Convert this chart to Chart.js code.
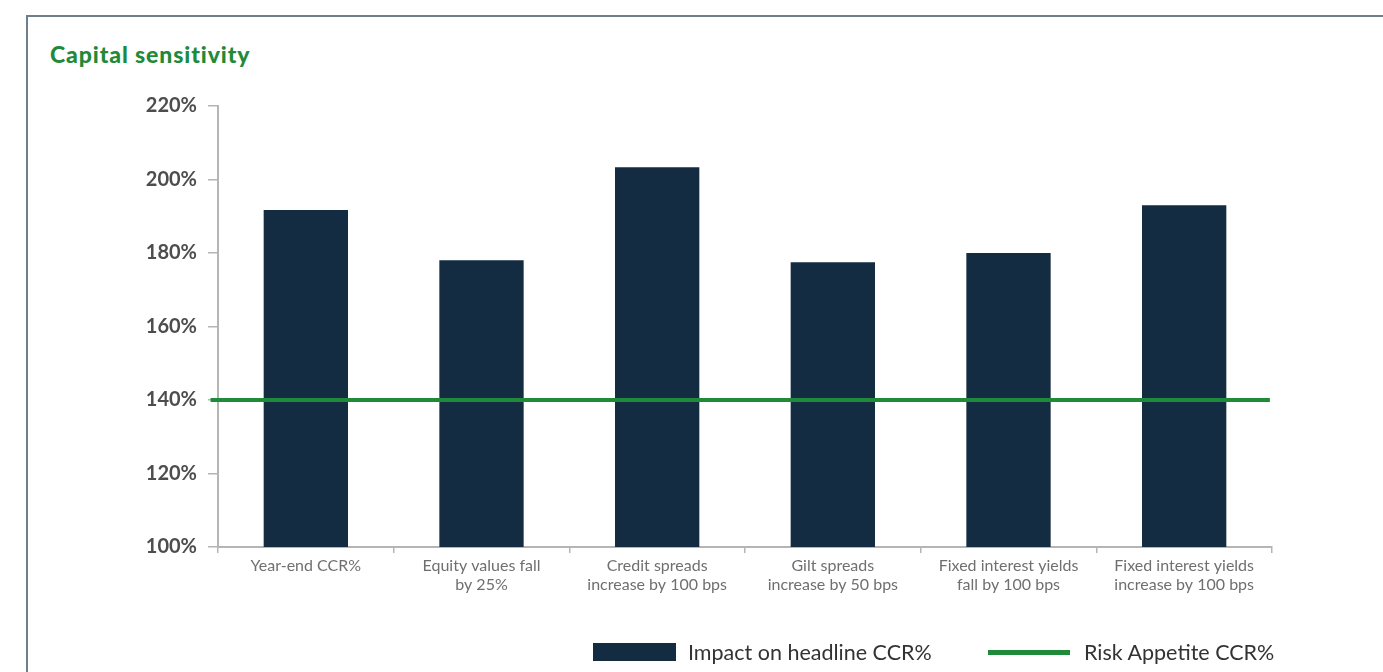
<!DOCTYPE html>
<html>
<head>
<meta charset="utf-8">
<script src="https://cdn.jsdelivr.net/npm/chart.js@4"></script>
<style>
  html, body { margin: 0; padding: 0; background: #fff; }
  body { width: 1383px; height: 672px; position: relative; overflow: hidden; font-family: Lato, "Open Sans", sans-serif; }
  #frame { position: absolute; left: 26px; top: 15px; width: 1400px; height: 700px; border-left: 2px solid #6e7e8a; border-top: 2px solid #6e7e8a; }
  #title { position: absolute; left: 50px; top: 40px; font-size: 23px; font-weight: 900; color: #1e8a3a; letter-spacing: 0.9px; }
  #wrap { position: absolute; left: 0; top: 0; width: 1383px; height: 672px; }
  .legend { position: absolute; top: 639px; font-size: 21.5px; color: #333; display: flex; align-items: center; }
  .sw { display: inline-block; margin-right: 12px; }
</style>
</head>
<body>
<div id="frame"></div>
<div id="title">Capital sensitivity</div>
<div id="wrap"><canvas id="myChart"></canvas></div>
<div class="legend" style="left:593px"><span class="sw" style="width:83px;height:18px;background:#132c42"></span>Impact on headline CCR%</div>
<div class="legend" style="left:988px"><span class="sw" style="width:82px;height:5px;background:#1e8a3a;margin-right:14px"></span>Risk Appetite CCR%</div>
<script>
const categories = [
    ['Year-end CCR%'],
    ['Equity values fall', 'by 25%'],
    ['Credit spreads', 'increase by 100 bps'],
    ['Gilt spreads', 'increase by 50 bps'],
    ['Fixed interest yields', 'fall by 100 bps'],
    ['Fixed interest yields', 'increase by 100 bps']
];
const headlineCCR = [191.7, 178, 203.3, 177.5, 180, 193];
const riskAppetite = 140;
const yTicks = [100, 120, 140, 160, 180, 200, 220];

document.addEventListener('DOMContentLoaded', function() {
    const ctx = document.getElementById('myChart').getContext('2d');
    const axisGrey = '#b5b5b5';

    const data = {
        labels: categories,
        datasets: [{
            type: 'line',
            label: 'Risk Appetite CCR%',
            data: [{x: 0, y: riskAppetite}, {x: 1, y: riskAppetite}],
            xAxisID: 'x2',
            borderColor: '#1e8a3a',
            borderWidth: 4,
            pointRadius: 0,
            clip: false,
            order: 0
        }, {
            type: 'bar',
            label: 'Impact on headline CCR%',
            data: headlineCCR,
            backgroundColor: '#132c42',
            grouped: false,
            barPercentage: 0.48,
            categoryPercentage: 1,
            order: 1
        }]
    };

    const config = {
        data: data,
        options: {
            responsive: true,
            maintainAspectRatio: false,
            animation: false,
            layout: { padding: { left: 118, top: 106, right: 111, bottom: 65 } },
            plugins: {
                legend: { display: false },
                tooltip: { enabled: false }
            },
            scales: {
                x: {
                    type: 'category',
                    offset: true,
                    afterFit: s => { s.height = 60; },
                    border: { color: axisGrey, width: 2 },
                    grid: { drawOnChartArea: false, offset: true, color: axisGrey, tickLength: 6, lineWidth: 1.5 },
                    ticks: {
                        color: '#6f6f6f',
                        padding: 4,
                        maxRotation: 0,
                        autoSkip: false,
                        font: { family: 'Lato', size: 16, lineHeight: 1.15 }
                    }
                },
                x2: {
                    type: 'linear',
                    display: false,
                    min: 0.007,
                    max: 1.002
                },
                y: {
                    min: 100,
                    max: 220,
                    afterFit: s => { s.width = 100; },
                    afterBuildTicks: s => { s.ticks = yTicks.map(v => ({ value: v })); },
                    border: { color: axisGrey, width: 2 },
                    grid: { drawOnChartArea: false, color: axisGrey, tickLength: 10, lineWidth: 1.5 },
                    ticks: {
                        color: '#4d4d4d',
                        padding: 11,
                        font: { family: 'Lato', size: 20, weight: 'bold' },
                        callback: v => v + '%'
                    }
                }
            }
        }
    };

    new Chart(ctx, config);
});
</script>
</body>
</html>
